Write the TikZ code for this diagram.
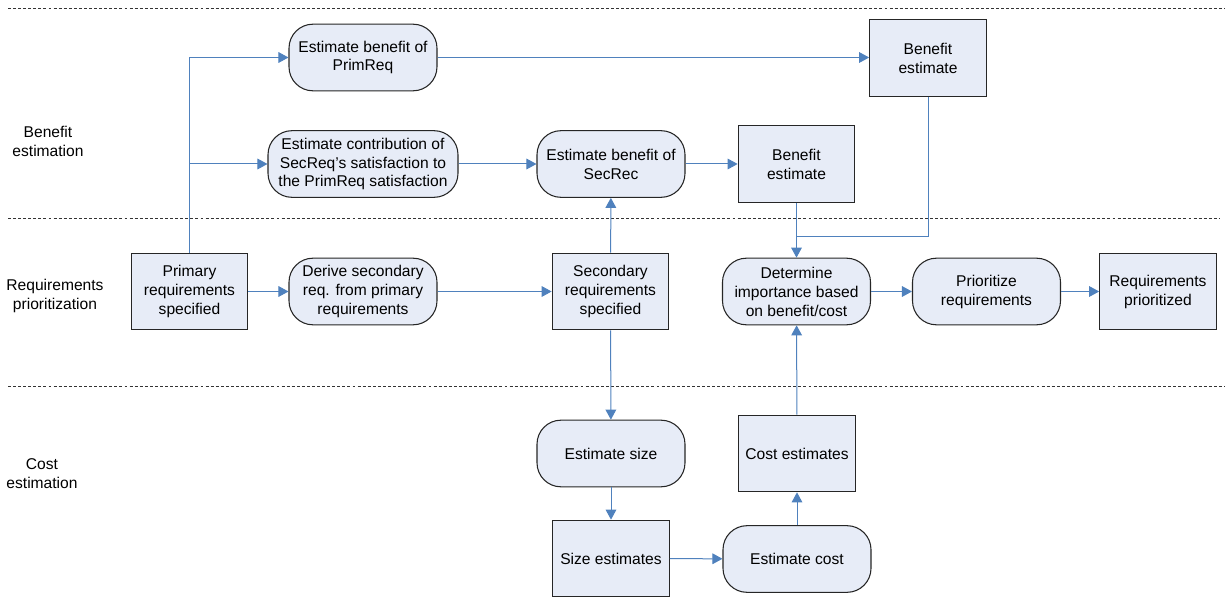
\documentclass[tikz,border=0pt]{standalone}
\usepackage{fontspec}
\setmainfont{Liberation Sans}
\usetikzlibrary{arrows.meta}
\definecolor{boxfill}{RGB}{231,236,247}
\definecolor{flowblue}{RGB}{79,129,189}

\begin{document}
\begin{tikzpicture}[x=0.75pt,y=-0.75pt,line width=0.75pt,>={Triangle[length=7.5pt,width=8pt]}]
\tikzset{txt/.style={font=\fontsize{11.7}{14.2}\selectfont,align=center,inner sep=1pt},
  box/.style={txt,draw=black!85,fill=boxfill,line width=0.8pt,minimum width=87.5pt,minimum height=57.5pt},
  act/.style={box,rounded corners=18pt,minimum width=111pt,minimum height=50pt},
  flow/.style={draw=flowblue,line width=0.75pt,->},
  lane/.style={draw=black!80,line width=0.6pt,dash pattern=on 2.2pt off 1.6pt}}
\useasboundingbox (0,0) rectangle (1225,606);
% ---------- lanes ----------
\foreach \y/\x in {8/1225,218/1220,386/1225}{ \draw[lane] (8,\y) -- (\x,\y); }
\node[txt] (lben)  at (48,141)   {Benefit\\estimation};
\node[txt] (lprio) at (55,296)   {Requirements\\prioritization};
\node[txt] (lcost) at (42,473.5) {Cost\\estimation};
% ---------- benefit estimation ----------
\node[act] (ebp) at (363,57.5) {Estimate benefit of\\PrimReq};
\node[box] (bet) at (928,58)   {Benefit\\estimate};
\node[act,minimum width=142.5pt] (ecs) at (363,164) {Estimate contribution of\\SecReq's satisfaction to\\the PrimReq satisfaction};
\node[act] (ebs) at (611,164)  {Estimate benefit of\\SecRec};
\node[box] (beb) at (796.5,164) {Benefit\\estimate};
% ---------- requirements prioritization ----------
\node[box] (prim) at (189.5,291.5) {Primary\\requirements\\specified};
\node[act] (der)  at (363,291.5)   {Derive secondary\\req. from primary\\requirements};
\node[box] (sec)  at (610.5,291.5) {Secondary\\requirements\\specified};
\node[act] (det)  at (796.5,291.5) {Determine\\importance based\\on benefit/cost};
\node[act] (pri)  at (986.5,291.5) {Prioritize\\requirements};
\node[box] (rqp)  at (1158,291.5)  {Requirements\\prioritized};
% ---------- cost estimation ----------
\node[act] (esz) at (611,453.5) {Estimate size};
\node[box] (sze) at (611,558.5) {Size estimates};
\node[act] (ect) at (797,559)   {Estimate cost};
\node[box] (cte) at (797,453.5) {Cost estimates};
\coordinate (join) at (796.5,237);
% ---------- flows ----------
\draw[flow] (prim.north) |- (ebp.west);
\draw[flow] (prim.north |- ecs.west) -- (ecs.west);
\draw[flow] (ebp) -- (bet.west |- ebp.east);
\draw[flow] (ecs) -- (ebs);
\draw[flow] (ebs) -- (beb);
\draw[flow,-] (bet.south) |- (join);
\draw[flow] (beb) -- (det);
\draw[flow] (prim) -- (der);
\draw[flow] (der) -- (sec);
\draw[flow] (sec) -- (ebs);
\draw[flow] (sec) -- (esz);
\draw[flow] (esz) -- (sze);
\draw[flow] (sze) -- (ect);
\draw[flow] (ect) -- (cte);
\draw[flow] (cte) -- (det);
\draw[flow] (det) -- (pri);
\draw[flow] (pri) -- (rqp);
\end{tikzpicture}
\end{document}
